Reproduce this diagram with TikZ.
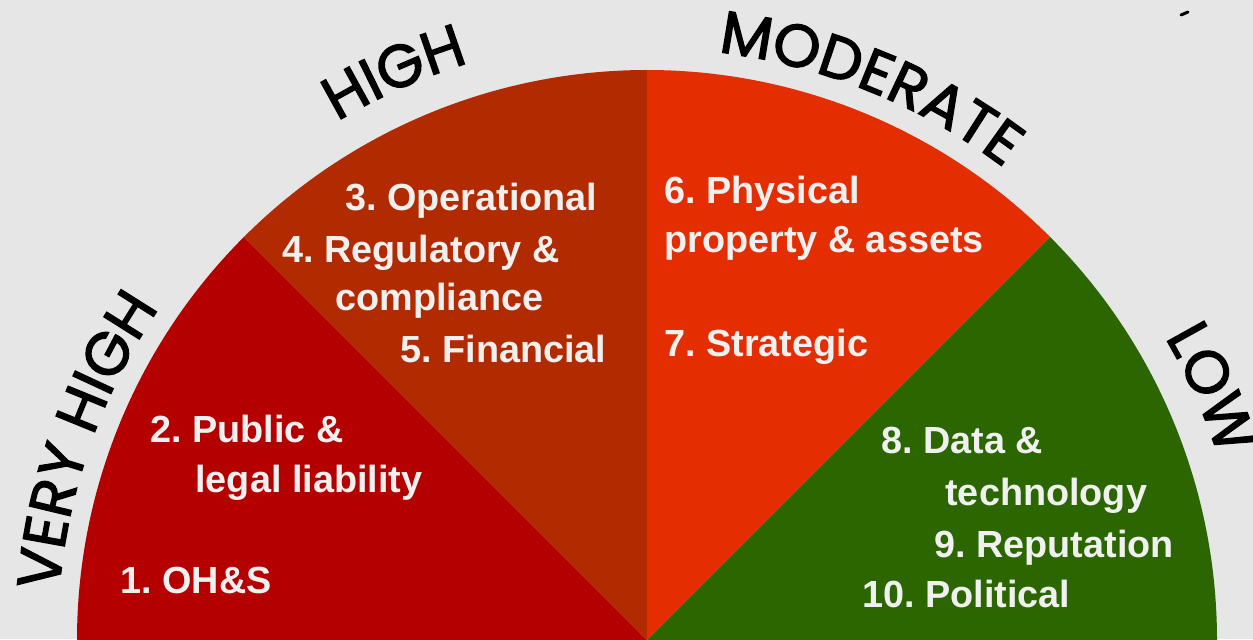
\documentclass[tikz,border=0pt]{standalone}
\usepackage{fontspec}
\usetikzlibrary{decorations.text}
\newfontfamily\lblfont{Poppins}[FakeBold=2.2]
\newfontfamily\itemfont{Liberation Sans}
\definecolor{bg}{HTML}{E6E6E6}
\definecolor{vhigh}{HTML}{B50000}
\definecolor{high}{HTML}{B22A00}
\definecolor{moder}{HTML}{E42D00}
\definecolor{low}{HTML}{2C6600}
\definecolor{itemtxt}{HTML}{F0F0F0}
\begin{document}
\begin{tikzpicture}[x=0.5pt,y=0.5pt,
  item/.style={anchor=base west, inner sep=0pt, text=itemtxt, font=\itemfont\bfseries\fontsize{18.9}{22}\selectfont\frenchspacing},
  curvelabel/.style={decorate, decoration={text along path, text align=center, text color=black}}]
\useasboundingbox (0,0) rectangle (1253,639);
\clip (0,0) rectangle (1253,639);
\fill[bg] (0,0) rectangle (1253,639);
\coordinate (C) at (647,-1);
% sectors
\fill[vhigh] (C) -- ([shift={(C)}]180:285pt) arc[start angle=180,end angle=135,radius=285pt] -- cycle;
\fill[high] (C) -- ([shift={(C)}]135:285pt) arc[start angle=135,end angle=90,radius=285pt] -- cycle;
\fill[moder] (C) -- ([shift={(C)}]90:285pt) arc[start angle=90,end angle=45,radius=285pt] -- cycle;
\fill[low] (C) -- ([shift={(C)}]45:285pt) arc[start angle=45,end angle=0,radius=285pt] -- cycle;
% curved labels
\path[curvelabel, decoration={text={|\lblfont\fontsize{30}{32}\selectfont|VERY HIGH}}]
  ([shift={(C)}]183:295pt) arc[start angle=183,end angle=138,radius=295pt];
\path[curvelabel, decoration={text={|\lblfont\fontsize{30}{32}\selectfont|HIGH}}]
  ([shift={(C)}]134:302pt) arc[start angle=134,end angle=94,radius=302pt];
\path[curvelabel, decoration={text={|\lblfont\fontsize{30}{32}\selectfont|MODERATE}}]
  ([shift={(C)}]90:296pt) arc[start angle=90,end angle=46,radius=296pt];
\path[curvelabel, decoration={text={|\lblfont\fontsize{30}{32}\selectfont|LOW}}]
  ([shift={(C)}]44:300pt) arc[start angle=44,end angle=4,radius=300pt];
% items
\node[item] (i1) at (120,46) {1. OH\&S};
\node[item] (i2) at (150,197) {2. Public \&};
\node[item] (i2b) at (195,147) {legal liability};
\node[item] (i3) at (345,429) {3. Operational};
\node[item] (i4) at (282,377) {4. Regulatory \&};
\node[item] (i4b) at (335,329) {compliance};
\node[item] (i5) at (400,277) {5. Financial};
\node[item] (i6) at (664,436) {6. Physical};
\node[item] (i6b) at (664,387) {property \& assets};
\node[item] (i7) at (664,283) {7. Strategic};
\node[item] (i8) at (881,186) {8. Data \&};
\node[item] (i8b) at (945,134) {technology};
\node[item] (i9) at (934,82) {9. Reputation};
\node[item] (i10) at (862,32) {10. Political};
% small mark top right
\draw[black, line width=1.5pt, line cap=round] (1181,624) -- (1188,627);
\end{tikzpicture}
\end{document}
